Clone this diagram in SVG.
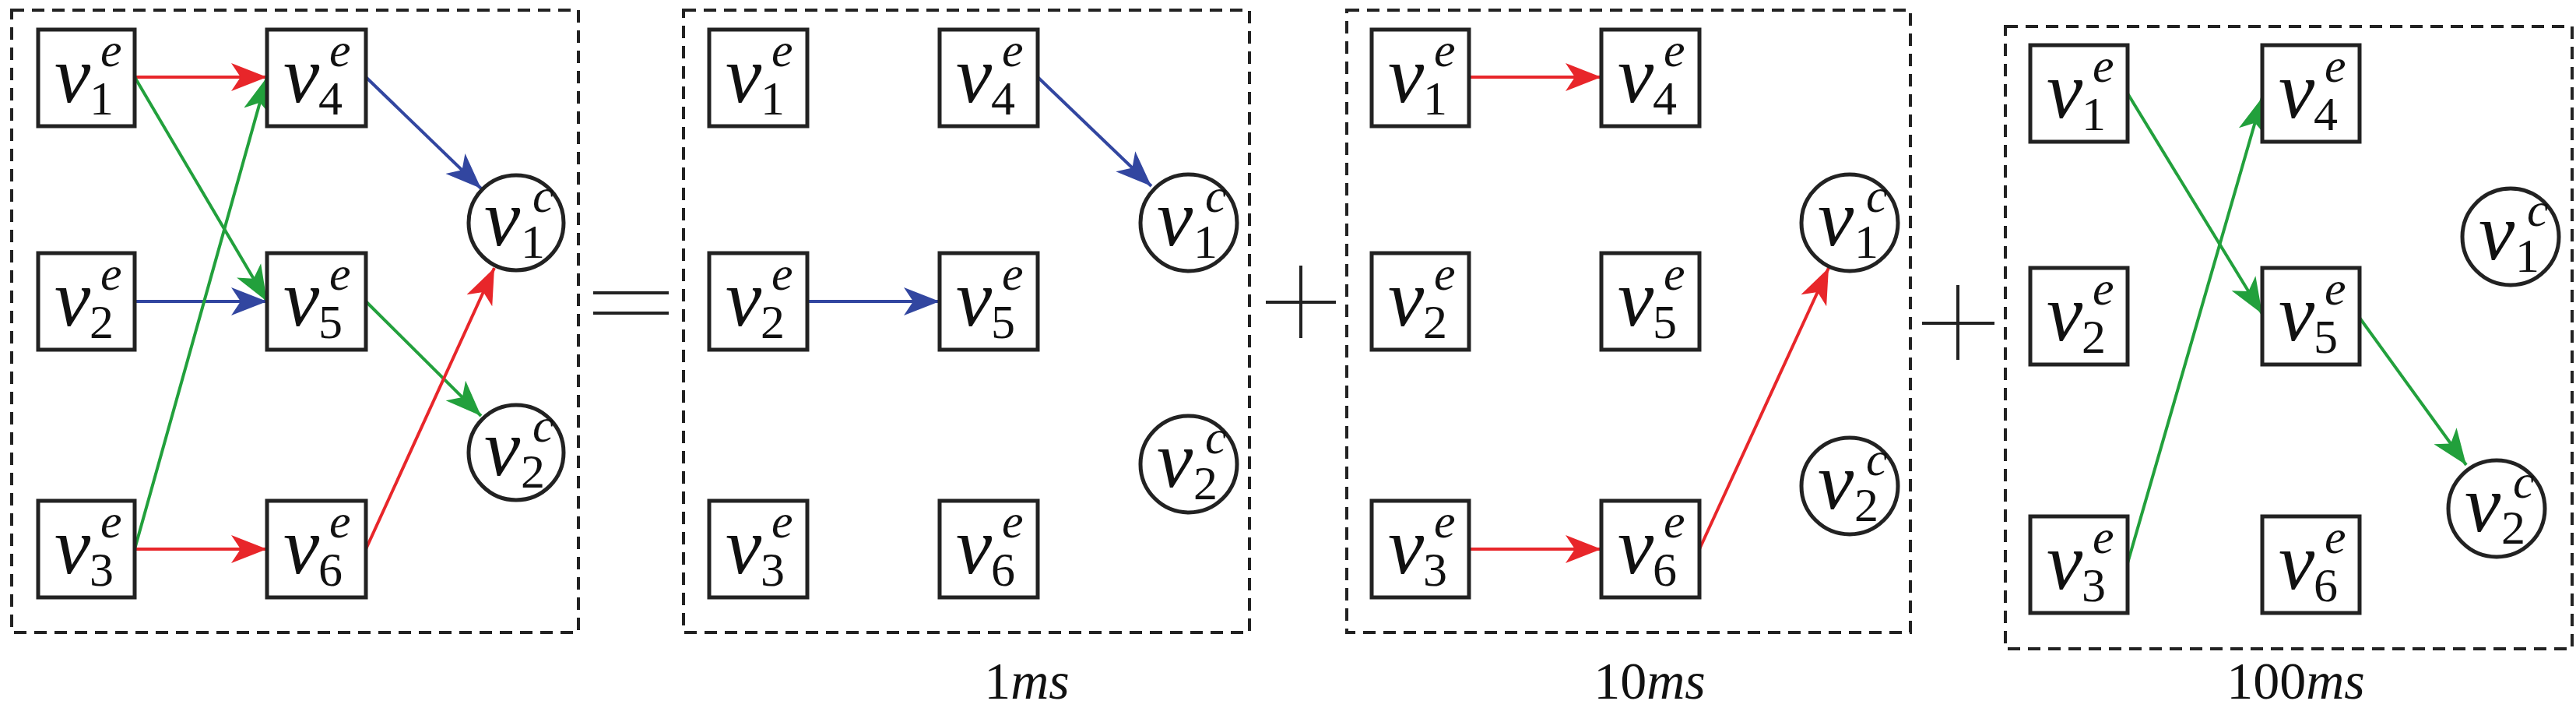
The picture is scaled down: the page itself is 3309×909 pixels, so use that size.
<svg xmlns="http://www.w3.org/2000/svg" width="3309" height="909" viewBox="0 0 3309 909">
<style>
.frame{fill:none;stroke:#222;stroke-width:4;stroke-dasharray:16 10}
.nb{fill:#fff;stroke:#222;stroke-width:5}
.v{font-family:"Liberation Serif","Times New Roman","DejaVu Serif",serif;font-style:italic;font-size:104px;fill:#111}
.sub{font-family:"Liberation Serif","Times New Roman","DejaVu Serif",serif;font-size:62px;fill:#111}
.sup{font-family:"Liberation Serif","Times New Roman","DejaVu Serif",serif;font-style:italic;font-size:62px;fill:#111}
.op{stroke:#222;stroke-width:4;fill:none}
.lab{font-family:"Liberation Serif","Times New Roman","DejaVu Serif",serif;font-size:68px;fill:#111}
.r{stroke:#e8262a;stroke-width:4;fill:none;marker-end:url(#mr)}
.b{stroke:#3246a0;stroke-width:4;fill:none;marker-end:url(#mb)}
.g{stroke:#22a03c;stroke-width:4;fill:none;marker-end:url(#mg)}
</style>
<defs>
<marker id="mr" markerUnits="userSpaceOnUse" markerWidth="50" markerHeight="40" refX="46" refY="18" orient="auto" viewBox="0 0 50 36"><path d="M0,0 L46,18 L0,36 L12,18 Z" fill="#e8262a"/></marker>
<marker id="mb" markerUnits="userSpaceOnUse" markerWidth="50" markerHeight="40" refX="46" refY="18" orient="auto" viewBox="0 0 50 36"><path d="M0,0 L46,18 L0,36 L12,18 Z" fill="#3246a0"/></marker>
<marker id="mg" markerUnits="userSpaceOnUse" markerWidth="50" markerHeight="40" refX="46" refY="18" orient="auto" viewBox="0 0 50 36"><path d="M0,0 L46,18 L0,36 L12,18 Z" fill="#22a03c"/></marker>
</defs>
<rect width="3309" height="909" fill="#fff"/>

<rect class="frame" x="15" y="13" width="728" height="799"/>
<rect class="frame" x="878" y="13" width="727" height="799"/>
<rect class="frame" x="1730" y="13" width="724" height="799"/>
<rect class="frame" x="2576" y="34" width="728" height="799"/>

<g id="eq"><line class="op" x1="762" y1="376" x2="859" y2="376"/><line class="op" x1="762" y1="402" x2="859" y2="402"/></g>
<g id="plus1"><line class="op" x1="1626" y1="388" x2="1716" y2="388"/><line class="op" x1="1671" y1="341" x2="1671" y2="434"/></g>
<g id="plus2"><line class="op" x1="2469" y1="415" x2="2562" y2="415"/><line class="op" x1="2515" y1="366" x2="2515" y2="462"/></g>

<g id="connectors">
<line class="r" x1="173" y1="99" x2="343" y2="99"/>
<line class="g" x1="173" y1="99" x2="343" y2="387"/>
<line class="b" x1="173" y1="387" x2="343" y2="387"/>
<line class="g" x1="173" y1="705" x2="343" y2="99"/>
<line class="r" x1="173" y1="705" x2="343" y2="705"/>
<line class="b" x1="470" y1="99" x2="618" y2="242"/>
<line class="g" x1="470" y1="387" x2="618" y2="534"/>
<line class="r" x1="470" y1="705" x2="635" y2="344"/>
<line class="b" x1="1333" y1="99" x2="1479" y2="239"/>
<line class="b" x1="1037" y1="387" x2="1207" y2="387"/>
<line class="r" x1="1887" y1="99" x2="2057" y2="99"/>
<line class="r" x1="1887" y1="705" x2="2057" y2="705"/>
<line class="r" x1="2183" y1="705" x2="2349" y2="344"/>
<line class="g" x1="2733" y1="120" x2="2906" y2="403"/>
<line class="g" x1="2733" y1="723" x2="2906" y2="125"/>
<line class="g" x1="3031" y1="408" x2="3168" y2="597"/>
</g>

<g id="p1v1"><rect class="nb" x="49" y="38" width="124" height="124"/><text class="v" x="70" y="131">v</text><text class="sub" x="115" y="147">1</text><text class="sup" x="129" y="85">e</text></g>
<g id="p1v2"><rect class="nb" x="49" y="325" width="124" height="124"/><text class="v" x="70" y="418">v</text><text class="sub" x="115" y="434">2</text><text class="sup" x="129" y="372">e</text></g>
<g id="p1v3"><rect class="nb" x="49" y="643" width="124" height="124"/><text class="v" x="70" y="736">v</text><text class="sub" x="115" y="752">3</text><text class="sup" x="129" y="690">e</text></g>
<g id="p1v4"><rect class="nb" x="343" y="38" width="127" height="124"/><text class="v" x="364" y="131">v</text><text class="sub" x="409" y="147">4</text><text class="sup" x="423" y="85">e</text></g>
<g id="p1v5"><rect class="nb" x="343" y="325" width="127" height="124"/><text class="v" x="364" y="418">v</text><text class="sub" x="409" y="434">5</text><text class="sup" x="423" y="372">e</text></g>
<g id="p1v6"><rect class="nb" x="343" y="643" width="127" height="124"/><text class="v" x="364" y="736">v</text><text class="sub" x="409" y="752">6</text><text class="sup" x="423" y="690">e</text></g>
<g id="p1c1"><circle class="nb" cx="663" cy="286" r="61" stroke-width="4"/><text class="v" x="622" y="315">v</text><text class="sub" x="669" y="331">1</text><text class="sup" x="684" y="272">c</text></g>
<g id="p1c2"><circle class="nb" cx="663" cy="581" r="61" stroke-width="4"/><text class="v" x="622" y="610">v</text><text class="sub" x="669" y="626">2</text><text class="sup" x="684" y="567">c</text></g>

<g id="p2v1"><rect class="nb" x="911" y="38" width="126" height="124"/><text class="v" x="932" y="131">v</text><text class="sub" x="977" y="147">1</text><text class="sup" x="991" y="85">e</text></g>
<g id="p2v2"><rect class="nb" x="911" y="325" width="126" height="124"/><text class="v" x="932" y="418">v</text><text class="sub" x="977" y="434">2</text><text class="sup" x="991" y="372">e</text></g>
<g id="p2v3"><rect class="nb" x="911" y="643" width="126" height="124"/><text class="v" x="932" y="736">v</text><text class="sub" x="977" y="752">3</text><text class="sup" x="991" y="690">e</text></g>
<g id="p2v4"><rect class="nb" x="1207" y="38" width="126" height="124"/><text class="v" x="1228" y="131">v</text><text class="sub" x="1273" y="147">4</text><text class="sup" x="1287" y="85">e</text></g>
<g id="p2v5"><rect class="nb" x="1207" y="325" width="126" height="124"/><text class="v" x="1228" y="418">v</text><text class="sub" x="1273" y="434">5</text><text class="sup" x="1287" y="372">e</text></g>
<g id="p2v6"><rect class="nb" x="1207" y="643" width="126" height="124"/><text class="v" x="1228" y="736">v</text><text class="sub" x="1273" y="752">6</text><text class="sup" x="1287" y="690">e</text></g>
<g id="p2c1"><circle class="nb" cx="1527" cy="286" r="62" stroke-width="4"/><text class="v" x="1486" y="315">v</text><text class="sub" x="1533" y="331">1</text><text class="sup" x="1548" y="272">c</text></g>
<g id="p2c2"><circle class="nb" cx="1527" cy="596" r="62" stroke-width="4"/><text class="v" x="1486" y="625">v</text><text class="sub" x="1533" y="641">2</text><text class="sup" x="1548" y="582">c</text></g>

<g id="p3v1"><rect class="nb" x="1762" y="38" width="125" height="124"/><text class="v" x="1783" y="131">v</text><text class="sub" x="1828" y="147">1</text><text class="sup" x="1842" y="85">e</text></g>
<g id="p3v2"><rect class="nb" x="1762" y="325" width="125" height="124"/><text class="v" x="1783" y="418">v</text><text class="sub" x="1828" y="434">2</text><text class="sup" x="1842" y="372">e</text></g>
<g id="p3v3"><rect class="nb" x="1762" y="643" width="125" height="124"/><text class="v" x="1783" y="736">v</text><text class="sub" x="1828" y="752">3</text><text class="sup" x="1842" y="690">e</text></g>
<g id="p3v4"><rect class="nb" x="2057" y="38" width="126" height="124"/><text class="v" x="2078" y="131">v</text><text class="sub" x="2123" y="147">4</text><text class="sup" x="2137" y="85">e</text></g>
<g id="p3v5"><rect class="nb" x="2057" y="325" width="126" height="124"/><text class="v" x="2078" y="418">v</text><text class="sub" x="2123" y="434">5</text><text class="sup" x="2137" y="372">e</text></g>
<g id="p3v6"><rect class="nb" x="2057" y="643" width="126" height="124"/><text class="v" x="2078" y="736">v</text><text class="sub" x="2123" y="752">6</text><text class="sup" x="2137" y="690">e</text></g>
<g id="p3c1"><circle class="nb" cx="2376" cy="286" r="62" stroke-width="4"/><text class="v" x="2335" y="315">v</text><text class="sub" x="2382" y="331">1</text><text class="sup" x="2397" y="272">c</text></g>
<g id="p3c2"><circle class="nb" cx="2376" cy="624" r="62" stroke-width="4"/><text class="v" x="2335" y="653">v</text><text class="sub" x="2382" y="669">2</text><text class="sup" x="2397" y="610">c</text></g>

<g id="p4v1"><rect class="nb" x="2608" y="58" width="125" height="124"/><text class="v" x="2629" y="151">v</text><text class="sub" x="2674" y="167">1</text><text class="sup" x="2688" y="105">e</text></g>
<g id="p4v2"><rect class="nb" x="2608" y="344" width="125" height="124"/><text class="v" x="2629" y="437">v</text><text class="sub" x="2674" y="453">2</text><text class="sup" x="2688" y="391">e</text></g>
<g id="p4v3"><rect class="nb" x="2608" y="663" width="125" height="124"/><text class="v" x="2629" y="756">v</text><text class="sub" x="2674" y="772">3</text><text class="sup" x="2688" y="710">e</text></g>
<g id="p4v4"><rect class="nb" x="2906" y="58" width="125" height="124"/><text class="v" x="2927" y="151">v</text><text class="sub" x="2972" y="167">4</text><text class="sup" x="2986" y="105">e</text></g>
<g id="p4v5"><rect class="nb" x="2906" y="344" width="125" height="124"/><text class="v" x="2927" y="437">v</text><text class="sub" x="2972" y="453">5</text><text class="sup" x="2986" y="391">e</text></g>
<g id="p4v6"><rect class="nb" x="2906" y="663" width="125" height="124"/><text class="v" x="2927" y="756">v</text><text class="sub" x="2972" y="772">6</text><text class="sup" x="2986" y="710">e</text></g>
<g id="p4c1"><circle class="nb" cx="3225" cy="304" r="62" stroke-width="4"/><text class="v" x="3184" y="333">v</text><text class="sub" x="3231" y="349">1</text><text class="sup" x="3246" y="290">c</text></g>
<g id="p4c2"><circle class="nb" cx="3207" cy="653" r="62" stroke-width="4"/><text class="v" x="3166" y="682">v</text><text class="sub" x="3213" y="698">2</text><text class="sup" x="3228" y="639">c</text></g>

<text class="lab" x="1319" y="897" text-anchor="middle">1<tspan font-style="italic">ms</tspan></text>
<text class="lab" x="2119" y="897" text-anchor="middle">10<tspan font-style="italic">ms</tspan></text>
<text class="lab" x="2949" y="897" text-anchor="middle">100<tspan font-style="italic">ms</tspan></text>
</svg>
